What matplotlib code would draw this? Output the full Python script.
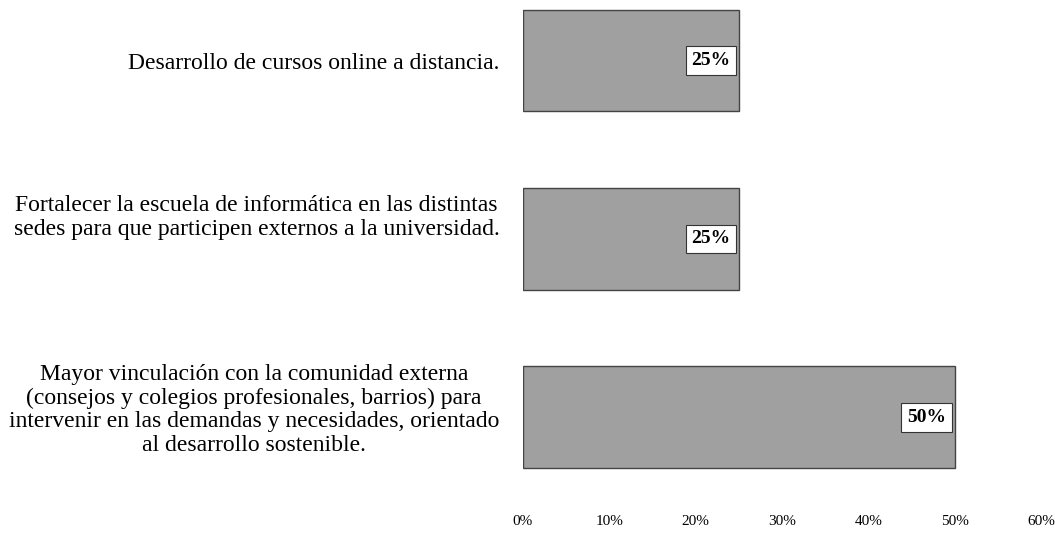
import numpy as np
import matplotlib.pyplot as plt
from matplotlib.transforms import ScaledTranslation

# categories from bottom to top
categories = [
    'Mayor vinculación con la comunidad externa\n(consejos y colegios profesionales, barrios) para\nintervenir en las demandas y necesidades, orientado\nal desarrollo sostenible.',
    'Fortalecer la escuela de informática en las distintas\nsedes para que participen externos a la universidad.',
    'Desarrollo de cursos online a distancia.',
]
values = [50, 25, 25]
x_ticks = [0, 10, 20, 30, 40, 50, 60]
x_tick_labels = ['0%', '10%', '20%', '30%', '40%', '50%', '60%']

plt.rcParams['font.family'] = ['Liberation Serif', 'DejaVu Serif']

fig = plt.figure(figsize=(10.55, 5.33), dpi=100)
ax = fig.add_axes([0.4957, 0.05, 0.4910, 0.95])

y = np.arange(len(categories))
ax.barh(y, values, height=0.57, color='#a0a0a0', edgecolor='#444444', linewidth=1.0)

for yi, v in zip(y, values):
    ax.annotate('%d%%' % v, xy=(v, yi), xytext=(-6, 0), textcoords='offset points',
                ha='right', va='center', fontsize=14, fontweight='bold',
                bbox=dict(boxstyle='square,pad=0.3', facecolor='white', edgecolor='#333333', linewidth=0.8))

ax.set_xlim(0, 60)
ax.set_ylim(-0.5, 2.34)
ax.set_xticks(x_ticks)
ax.set_xticklabels(x_tick_labels, fontsize=11)
ax.set_yticks(y)
ax.set_yticklabels(categories, fontsize=17, ma='center', linespacing=1.15)
ax.tick_params(axis='both', length=0)
ax.tick_params(axis='y', pad=17)
ax.tick_params(axis='x', pad=6)
for s in ax.spines.values():
    s.set_visible(False)

# multi-line labels sit a bit above the bar centre in the original
label_shift = [0.11, 0.25, 0.0]
for lab, dy in zip(ax.get_yticklabels(), label_shift):
    lab.set_transform(lab.get_transform() + ScaledTranslation(0, dy, fig.dpi_scale_trans))

fig.savefig('out.png', dpi=100, facecolor='white')
